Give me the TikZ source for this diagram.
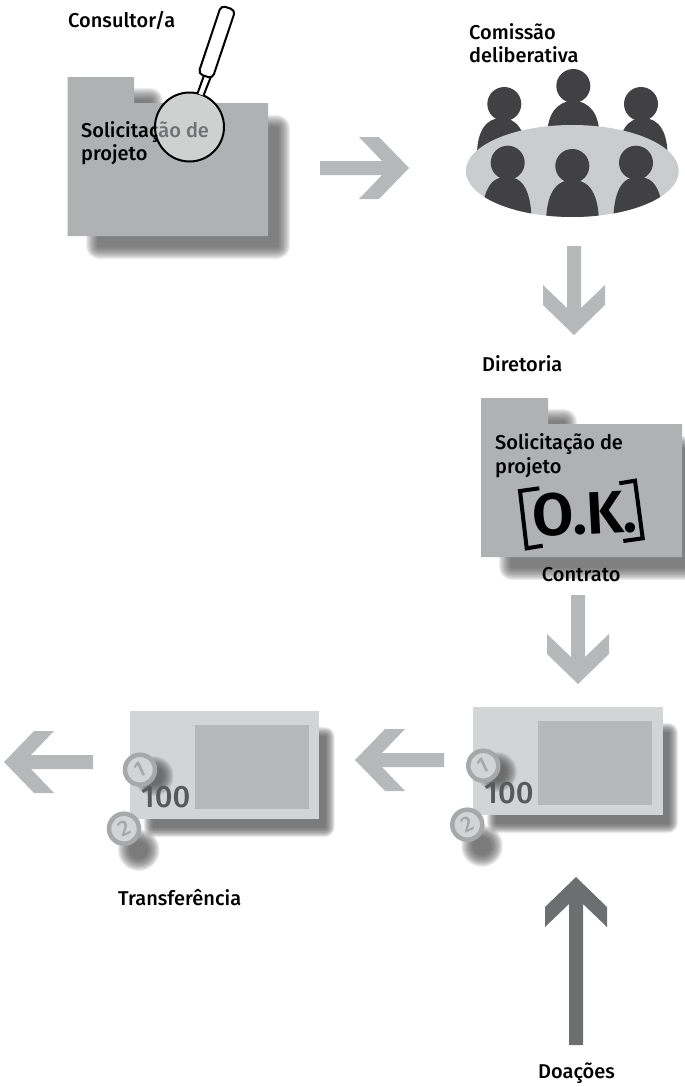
\documentclass[tikz,border=0pt]{standalone}
\usepackage{fontspec}
\setmainfont{Fira Sans}[UprightFont=* Medium]
\newfontfamily\okfont{Fira Sans SemiBold}
\definecolor{folderc}{HTML}{B0B1B3}
\definecolor{arrowc}{HTML}{B7B8BA}
\definecolor{darkarrow}{HTML}{6D6E70}
\definecolor{peoplec}{HTML}{414042}
\definecolor{tablec}{HTML}{CBCCCE}
\definecolor{lensc}{HTML}{CFD1D0}
\definecolor{notec}{HTML}{D3D4D6}
\definecolor{ringc}{HTML}{A7A8AA}
\definecolor{numc}{HTML}{58595B}
\definecolor{shc}{HTML}{505050}
\newcommand\softshadow[3]{\foreach \k in {1,...,12}{\begin{scope}[transparency group,opacity=#3]\path[fill=shc,draw=shc,line join=round,line width=\k*#2/6] #1;\end{scope}}}
\newcommand\chevron[3]{\begin{scope}[shift={(#1)},rotate=#2]\fill[#3] (0,0)--(30,-31)--(50,-31)--(27,-7)--(89,-7)--(89,7)--(27,7)--(50,31)--(30,31)--cycle;\end{scope}}
\newcommand\bodydome[4]{(#1-#3,#4) .. controls (#1-#3,#2+14) and (#1-#3*0.65,#2) .. (#1,#2) .. controls (#1+#3*0.65,#2) and (#1+#3,#2+14) .. (#1+#3,#4) -- cycle}
\newcommand\banknote{%
  \softshadow{(497,733) rectangle (668,823)}{10}{0.11}
  \fill[notec] (473.3,706.7) rectangle (662.7,814.7);
  \fill[arrowc] (538.3,721.3) rectangle (652,805);
  \softshadow{(497,772) circle[radius=8]}{12}{0.11}
  \softshadow{(482,846) circle[radius=8]}{13}{0.11}
  \node[numtext] (hundred) at (484,803.5) {100};
  \node[coin] (coinA) at (483.3,765.7) {\rotatebox{25}{1}};
  \node[coin] (coinB) at (467.3,824.7) {\rotatebox{25}{2}};
}
\tikzset{
  lbl/.style={anchor=base west,inner sep=0pt,font=\fontsize{20}{20}\selectfont,text=black},
  numtext/.style={anchor=base west,inner sep=0pt,font=\fontsize{31}{31}\selectfont,text=numc},
  coin/.style={circle,draw=ringc,line width=4.5pt,fill=notec,minimum size=30pt,inner sep=0pt,text=ringc,font=\fontsize{22}{22}\selectfont},
  bracketline/.style={draw=black,line width=4pt,line join=miter},
  magline/.style={draw=black,line width=2pt}
}
\begin{document}
\begin{tikzpicture}[x=1pt,y=-1pt]
\useasboundingbox (0,0) rectangle (685,1087);
% folder 1
\softshadow{(99,101) -- (150,101) -- (150,128) -- (277,128) -- (277,246) -- (99,246) -- cycle}{13}{0.1}
\fill[folderc] (67.5,77) -- (134,77) -- (134,103) -- (268,103) -- (268,236) -- (67.5,236) -- cycle;
\node[lbl] (sol1a) at (81,137) {Solicitação de};
\node[lbl] (sol1b) at (81,160) {projeto};
\fill[lensc] (189.5,127) circle[radius=34.5];
\begin{scope}
  \clip (189.5,127) circle[radius=34.5];
  \node[lbl,text=numc!85] (sol1c) at (81,137) {Solicitação de};
\end{scope}
\draw[magline] (189.5,127) circle[radius=34.5];
\draw[magline,fill=white] (197.5,93.5) -- (204.5,74) -- (211,76.5) -- (203.5,95.5);
\begin{scope}[shift={(216.8,42)},rotate=-18.5]
  \draw[magline,fill=white,rounded corners=4.5pt] (-7.5,-36) rectangle (7.5,36);
\end{scope}
\node[lbl] (consultor) at (68,27.5) {Consultor/a};
% arrows
\chevron{409,168}{180}{arrowc}
\chevron{574,335}{90}{arrowc}
\chevron{578,684}{90}{arrowc}
\chevron{355,760}{0}{arrowc}
\chevron{4,762}{0}{arrowc}
\begin{scope}[shift={(576,877)},rotate=-90]
  \fill[darkarrow] (0,0)--(30,-31)--(50,-31)--(27,-7)--(168,-7)--(168,7)--(27,7)--(50,31)--(30,31)--cycle;
\end{scope}
% committee
\node[lbl] (comissao) at (469,39.3) {Comissão};
\node[lbl] (delib) at (469,62) {deliberativa};
\fill[peoplec] (504.3,104) circle[radius=17] (573.3,86) circle[radius=17] (641,104) circle[radius=17];
\fill[peoplec] \bodydome{501.5}{118}{24.5}{155};
\fill[peoplec] \bodydome{573.3}{101}{26}{135};
\fill[peoplec] \bodydome{643}{118}{24.5}{155};
\fill[tablec] (572.3,171) ellipse[x radius=106.5,y radius=46];
\begin{scope}
  \clip (572.3,171) ellipse[x radius=106.5,y radius=46];
  \fill[peoplec] (507.7,162.7) circle[radius=17] (572.3,166) circle[radius=17] (636,162.7) circle[radius=17];
  \fill[peoplec] \bodydome{506.7}{176.7}{25}{225};
  \fill[peoplec] \bodydome{572.5}{180}{26.5}{225};
  \fill[peoplec] \bodydome{638.2}{176.7}{25}{225};
\end{scope}
% folder 2
\node[lbl] (diretoria) at (482,371.5) {Diretoria};
\softshadow{(512,422) -- (564,422) -- (564,449) -- (700,449) -- (700,567) -- (512,567) -- cycle}{13}{0.1}
\fill[folderc] (481,398) -- (548,398) -- (548,424) -- (682,424) -- (682,557) -- (481,557) -- cycle;
\node[lbl] (sol2a) at (495,449) {Solicitação de};
\node[lbl] (sol2b) at (495,473) {projeto};
\node[anchor=base west,inner sep=0pt,font=\fontsize{60}{60}\okfont,rotate=3,text=black] (ok) at (533,537) {O\kern-1pt.\kern-1pt K\kern-1pt.};
\draw[bracketline] (539.3,488.3) -- (520,491) -- (526.7,548.3) -- (542.7,545.7);
\draw[bracketline] (619.3,483.3) -- (635,480.7) -- (642.7,538.3) -- (623.3,541);
\node[lbl] (contrato) at (541.7,581.7) {Contrato};
% banknotes
\banknote
\begin{scope}[shift={(-343.3,4)}]
  \banknote
\end{scope}
\node[lbl] (transf) at (118,905) {Transferência};
\node[lbl] (doacoes) at (538,1078.5) {Doações};
\end{tikzpicture}
\end{document}
